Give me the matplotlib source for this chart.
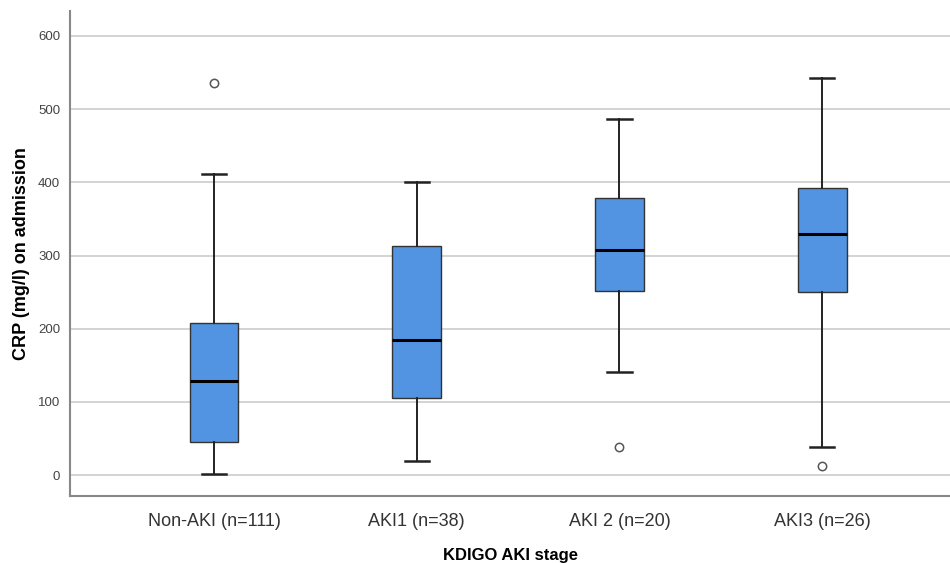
import matplotlib
matplotlib.use("Agg")
import matplotlib.pyplot as plt

plt.rcParams["font.family"] = ["Liberation Sans", "DejaVu Sans"]

# data (CRP mg/l)
groups = ["Non-AKI (n=111)", "AKI1 (n=38)", "AKI 2 (n=20)", "AKI3 (n=26)"]
whislo = [1, 19, 141, 38]
q1 = [45, 106, 252, 250]
med = [129, 184, 308, 330]
q3 = [208, 313, 379, 392]
whishi = [411, 401, 486, 543]
fliers = [[535], [], [39], [13]]

yticks = [0, 100, 200, 300, 400, 500, 600]
BOX_COLOR = "#5294e2"

stats = []
for i, name in enumerate(groups):
    stats.append(dict(label=name, whislo=whislo[i], q1=q1[i], med=med[i],
                      q3=q3[i], whishi=whishi[i], fliers=fliers[i]))

fig = plt.figure(figsize=(9.5, 5.63), dpi=100)
ax = fig.add_axes([0.0737, 0.119, 0.9263, 0.8615])

ax.bxp(stats, positions=range(len(groups)), widths=0.24, patch_artist=True,
       boxprops=dict(facecolor=BOX_COLOR, edgecolor="#333333", linewidth=1.0),
       medianprops=dict(color="black", linewidth=2.2),
       whiskerprops=dict(color="#222222", linewidth=1.4),
       capprops=dict(color="#222222", linewidth=1.8),
       capwidths=0.12,
       flierprops=dict(marker="o", markerfacecolor="white", markeredgecolor="#555555",
                       markersize=6, markeredgewidth=1.1),
       zorder=3)

ax.set_xlim(-0.71, 3.63)
ax.set_ylim(-28.5, 634)
ax.set_yticks(yticks)
ax.set_yticklabels([str(v) for v in yticks], color="#444444", fontsize=9.5)
ax.tick_params(axis="both", length=0)
ax.tick_params(axis="y", pad=7)
ax.tick_params(axis="x", pad=12)
for lab in ax.get_xticklabels():
    lab.set_fontsize(13)
    lab.set_color("#333333")
ax.yaxis.grid(True, color="#cccccc", linewidth=1.2, zorder=0)
ax.set_axisbelow(True)

for s in ["top", "right"]:
    ax.spines[s].set_visible(False)
for s in ["left", "bottom"]:
    ax.spines[s].set_color("#888888")
    ax.spines[s].set_linewidth(1.5)

ax.set_ylabel("CRP (mg/l) on admission", fontsize=13, fontweight="bold", labelpad=6)
ax.set_xlabel("KDIGO AKI stage", fontsize=12, fontweight="bold", labelpad=13)

fig.savefig("out.png", dpi=100)
